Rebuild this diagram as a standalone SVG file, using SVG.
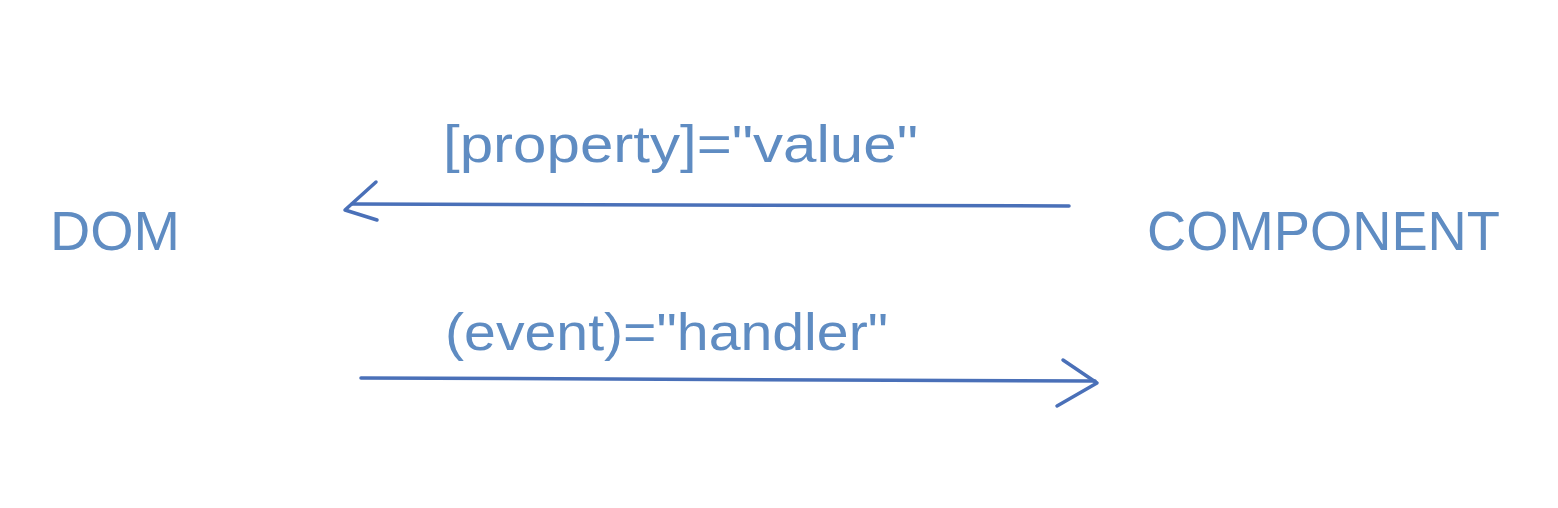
<svg xmlns="http://www.w3.org/2000/svg" width="1558" height="508" viewBox="0 0 1558 508">
<style>
.t{font-family:"Liberation Sans",Arial,sans-serif;fill:#5f8cc2;font-weight:normal}
.ln{stroke:#4a70b8;stroke-width:3.5;fill:none;stroke-linecap:round;stroke-linejoin:round}
</style>
<rect width="1558" height="508" fill="#ffffff"/>
<g id="dom"><text class="t" x="50" y="250" font-size="56" textLength="130" lengthAdjust="spacingAndGlyphs">DOM</text></g>
<g id="component"><text class="t" x="1147" y="250" font-size="56" textLength="353" lengthAdjust="spacingAndGlyphs">COMPONENT</text></g>
<g id="connectors">
<path class="ln" d="M1069 206 L352 204"/>
<path class="ln" d="M376 182 L345 210 L377 220"/>
<text class="t" x="443" y="162" font-size="52" textLength="475" lengthAdjust="spacingAndGlyphs">[property]="value"</text>
<path class="ln" d="M361 378 L1095 381"/>
<path class="ln" d="M1063 360 L1097 383 L1057 406"/>
<text class="t" x="445" y="350" font-size="52" textLength="443" lengthAdjust="spacingAndGlyphs">(event)="handler"</text>
</g>
</svg>
